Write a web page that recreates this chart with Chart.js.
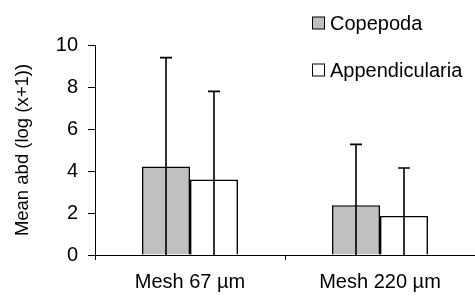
<!DOCTYPE html>
<html>
<head>
<meta charset="utf-8">
<script src="https://cdn.jsdelivr.net/npm/chart.js@4.4.0/dist/chart.umd.min.js"></script>
<style>
  html, body { margin: 0; padding: 0; background: #fff; }
  #wrap { width: 475px; height: 296px; position: relative; }
</style>
</head>
<body>
<div id="wrap"><canvas id="c" width="475" height="296"></canvas></div>
<script>
const categories = ['Mesh 67 µm', 'Mesh 220 µm'];
const copepodaMean = [4.22, 2.37];
const copepodaErr = [5.18, 2.90];
const appendMean = [3.60, 1.86];
const appendErr = [4.19, 2.28];
const yTicks = [0, 2, 4, 6, 8, 10];
const seriesNames = ['Copepoda', 'Appendicularia'];

const FONT = '"Liberation Sans", Arial, sans-serif';

const errorBars = {
  id: 'errorBars',
  afterDatasetsDraw(chart) {
    const ctx = chart.ctx;
    const y = chart.scales.y;
    ctx.save();
    ctx.strokeStyle = '#000';
    ctx.lineWidth = 1.6;
    chart.data.datasets.forEach((ds, di) => {
      const meta = chart.getDatasetMeta(di);
      meta.data.forEach((bar, i) => {
        const v = ds.data[i];
        const e = ds.errors[i];
        const x = bar.x;
        const yTop = y.getPixelForValue(v + e);
        const yBase = y.getPixelForValue(0);
        ctx.beginPath();
        ctx.moveTo(x, yBase);
        ctx.lineTo(x, yTop);
        ctx.moveTo(x - 6, yTop);
        ctx.lineTo(x + 6, yTop);
        ctx.stroke();
      });
    });
    ctx.restore();
  }
};

const legendPlugin = {
  id: 'customLegend',
  afterDraw(chart) {
    const ctx = chart.ctx;
    ctx.save();
    const rows = [23, 70];
    chart.data.datasets.forEach((ds, i) => {
      const cy = rows[i];
      ctx.fillStyle = ds.backgroundColor;
      ctx.fillRect(312.5, cy - 6, 12, 12);
      ctx.strokeStyle = '#000';
      ctx.lineWidth = 1;
      ctx.strokeRect(312.5, cy - 6, 12, 12);
      ctx.fillStyle = '#000';
      ctx.font = '20px ' + FONT;
      ctx.textBaseline = 'middle';
      ctx.textAlign = 'left';
      ctx.fillText(ds.label, 330, cy + 1);
    });
    ctx.restore();
  }
};

new Chart(document.getElementById('c'), {
  type: 'bar',
  data: {
    labels: categories,
    datasets: [
      { label: seriesNames[0], data: copepodaMean, errors: copepodaErr,
        backgroundColor: '#c0c0c0', borderColor: '#000', borderWidth: 1.6,
        barPercentage: 1.0, categoryPercentage: 0.505 },
      { label: seriesNames[1], data: appendMean, errors: appendErr,
        backgroundColor: '#ffffff', borderColor: '#000', borderWidth: 1.6,
        barPercentage: 1.0, categoryPercentage: 0.505 }
    ]
  },
  options: {
    responsive: false,
    animation: false,
    devicePixelRatio: 1,
    layout: { padding: { top: 45, right: 0, bottom: 0, left: 0 } },
    plugins: { legend: { display: false }, tooltip: { enabled: false } },
    scales: {
      x: {
        grid: { display: true, drawOnChartArea: false, drawTicks: true, tickLength: 5, color: '#000', offset: true },
        border: { display: true, color: '#000', width: 1 },
        ticks: { color: '#000', font: { family: FONT, size: 20 }, padding: 10, maxRotation: 0 },
        afterFit(s) { s.height = 41; }
      },
      y: {
        min: 0, max: 10,
        afterBuildTicks(s) { s.ticks = yTicks.map(v => ({ value: v })); },
        grid: { display: true, drawOnChartArea: false, drawTicks: true, tickLength: 7, color: '#000' },
        border: { display: true, color: '#000', width: 1 },
        ticks: { color: '#000', font: { family: FONT, size: 20 }, padding: 10 },
        title: { display: true, text: 'Mean abd (log (x+1))', color: '#000',
                 font: { family: FONT, size: 18.5 }, padding: { top: 12, bottom: 0 } },
        afterFit(s) { s.width = 95; }
      }
    }
  },
  plugins: [errorBars, legendPlugin]
});
</script>
</body>
</html>
